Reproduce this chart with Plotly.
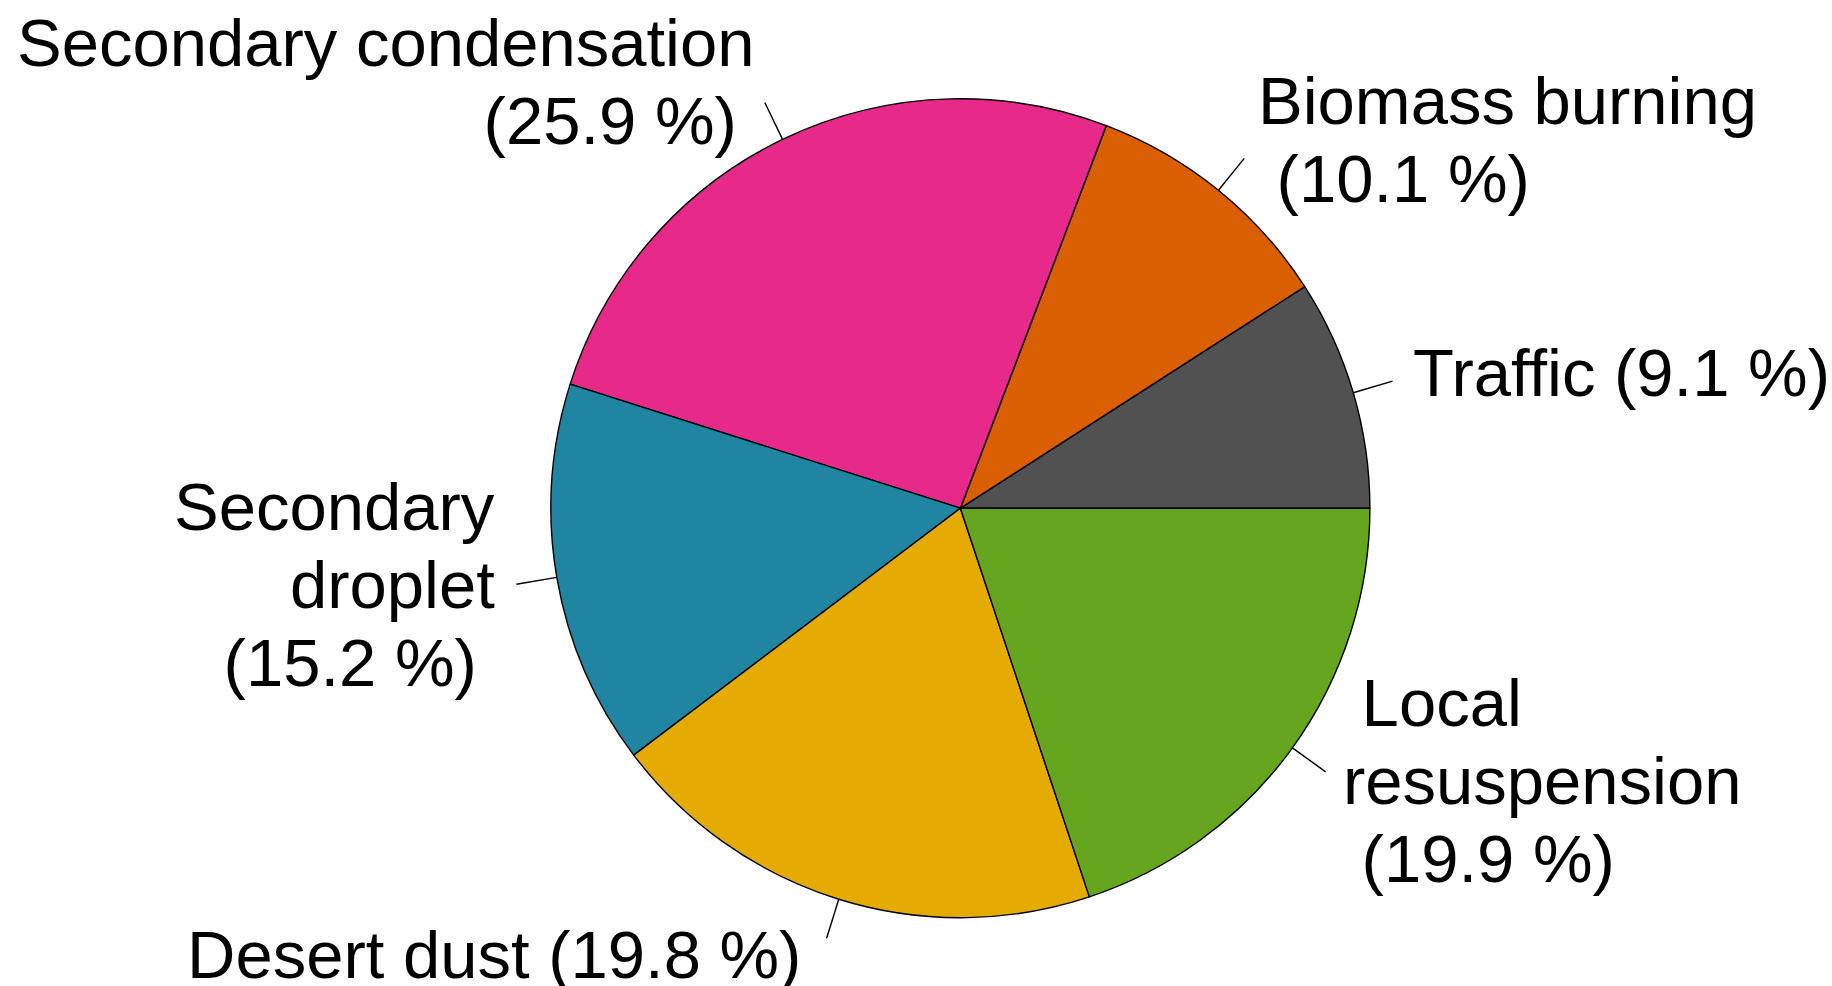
import math
import plotly.graph_objects as go

# ---- data ----
sources = ["Traffic", "Biomass burning", "Secondary condensation",
           "Secondary droplet", "Desert dust", "Local resuspension"]
shares = [9.1, 10.1, 25.9, 15.2, 19.8, 19.9]
colors = ["#515151", "#D95F02", "#E7298A", "#1F85A0", "#E6AB02", "#66A61E"]
# how each label is broken into lines (name part), percentage appended
name_lines = [["Traffic"], ["Biomass burning"], ["Secondary condensation"],
              ["Secondary", "droplet"], ["Desert dust"], ["\u00a0Local", "resuspension"]]
pct_on_own_line = [False, True, True, True, False, True]

# ---- layout geometry (pixels) ----
W, H = 1832, 986
cx, cy, R = 960.4, 508.2, 409.5
FONT = 67
LINE_STEP = 78
TEXT_DY = -3

def px_to_paper(x, y):
    return x / W, 1 - y / H

total = sum(shares)
x0, y_top = px_to_paper(cx - R, cy - R)
x1, y_bot = px_to_paper(cx + R, cy + R)

fig = go.Figure(go.Pie(
    labels=sources, values=shares, sort=False,
    direction="counterclockwise", rotation=90 - shares[0] / total * 360,
    marker=dict(colors=colors, line=dict(color="black", width=1.4)),
    textinfo="none", hoverinfo="label+value", showlegend=False,
    domain=dict(x=[x0, x1], y=[y_bot, y_top]),
))

shapes, annotations = [], []
cum = 0.0
for i, v in enumerate(shares):
    mid = (cum + v / 2) / total * 2 * math.pi
    cum += v
    c, s = math.cos(mid), math.sin(mid)
    # leader line r -> 1.1r
    ax0, ay0 = px_to_paper(cx + R * c, cy - R * s)
    ax1, ay1 = px_to_paper(cx + 1.1 * R * c, cy - 1.1 * R * s)
    shapes.append(dict(type="line", xref="paper", yref="paper",
                       x0=ax0, y0=ay0, x1=ax1, y1=ay1,
                       line=dict(color="black", width=1.4)))
    # label anchor at 1.15r
    tx, ty = cx + 1.15 * R * c, cy - 1.15 * R * s + TEXT_DY
    pct = f"({v:.1f} %)"
    lines = list(name_lines[i])
    if pct_on_own_line[i]:
        lines.append("\u00a0" + pct + "\u00a0")
    else:
        lines[-1] = lines[-1] + " " + pct + "\u00a0"
    n = len(lines)
    left = c > 0
    for k, txt in enumerate(lines):
        ly = ty + (k - (n - 1) / 2) * LINE_STEP
        px_, py_ = px_to_paper(tx, ly)
        annotations.append(dict(
            x=px_, y=py_, xref="paper", yref="paper", text=txt,
            showarrow=False, xanchor="left" if left else "right",
            yanchor="middle", borderpad=0,
            font=dict(family="Liberation Sans, Arial, sans-serif", size=FONT, color="black"),
        ))

fig.update_layout(
    width=W, height=H, margin=dict(l=0, r=0, t=0, b=0),
    paper_bgcolor="white", plot_bgcolor="white",
    shapes=shapes, annotations=annotations,
)
fig.write_html("out.html", config={"displayModeBar": False},
               post_script="document.body.style.margin='0';document.body.style.overflow='hidden';")
